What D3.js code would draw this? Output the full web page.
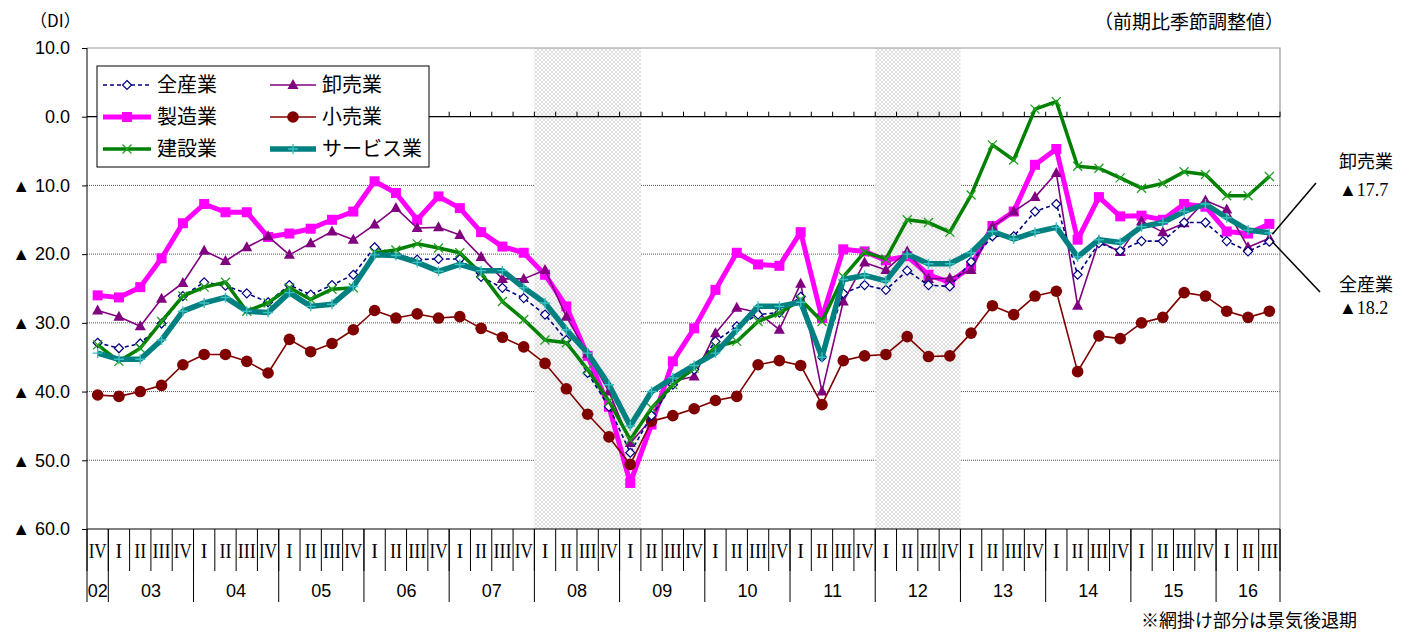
<!DOCTYPE html>
<html><head><meta charset="utf-8">
<script src="https://cdn.jsdelivr.net/npm/d3@7"></script>
<style>body{margin:0;background:#fff}</style>
</head><body>
<svg id="c" width="1419" height="634"></svg>
<script>
// ---------- data ----------
const quarterLabels = ["IV",
 "I","II","III","IV","I","II","III","IV","I","II","III","IV","I","II","III","IV",
 "I","II","III","IV","I","II","III","IV","I","II","III","IV","I","II","III","IV",
 "I","II","III","IV","I","II","III","IV","I","II","III","IV","I","II","III","IV",
 "I","II","III","IV","I","II","III"];
const yearLabels = ["02","03","04","05","06","07","08","09","10","11","12","13","14","15","16"];
const yearQuarterCounts = [1,4,4,4,4,4,4,4,4,4,4,4,4,4,3];
const yTickValues = [10,0,-10,-20,-30,-40,-50,-60];
const yTickLabels = ["10.0","0.0","▲ 10.0","▲ 20.0","▲ 30.0","▲ 40.0","▲ 50.0","▲ 60.0"];
const recessionStart = [21,37];   // 08 I, 12 I
const recessionEnd   = [25,40];   // 09 I, 12 IV

const allIndustries = [-32.9,-33.7,-33.0,-30.1,-26.1,-24.1,-24.6,-25.7,-27.0,-24.5,-25.9,-24.5,-23.0,-19.0,-20.0,-20.8,-20.7,-20.7,-23.3,-24.9,-26.4,-28.8,-32.5,-37.3,-42.2,-48.9,-43.5,-39.0,-36.8,-32.7,-30.5,-28.8,-28.5,-26.2,-35.0,-25.7,-24.5,-25.2,-22.4,-24.5,-24.7,-21.1,-17.4,-17.4,-13.8,-12.7,-23.0,-18.4,-19.5,-18.1,-18.1,-15.4,-15.4,-18.1,-19.6,-18.2];
const wholesale = [-28.2,-29.1,-30.5,-26.5,-24.2,-19.5,-21.0,-19.0,-17.4,-20.1,-18.4,-16.7,-17.9,-15.7,-13.3,-16.2,-16.1,-17.2,-20.4,-23.6,-23.6,-22.3,-29.1,-34.5,-40.0,-47.5,-44.0,-38.5,-37.8,-31.5,-27.8,-28.5,-31.0,-24.3,-40.0,-26.9,-21.2,-22.3,-19.6,-23.6,-23.5,-22.3,-16.0,-13.8,-11.7,-8.2,-27.5,-18.1,-19.7,-15.2,-16.8,-15.5,-12.2,-13.5,-19.0,-17.7];
const manufacturing = [-26.0,-26.3,-24.8,-20.6,-15.5,-12.7,-13.9,-13.9,-17.5,-17.0,-16.3,-15.0,-13.8,-9.4,-11.1,-15.0,-11.6,-13.3,-16.8,-18.9,-19.8,-23.0,-27.6,-34.8,-42.2,-53.3,-44.8,-35.6,-30.8,-25.2,-19.8,-21.5,-21.7,-16.8,-29.3,-19.3,-19.6,-20.9,-20.3,-23.0,-24.1,-21.8,-15.9,-13.8,-7.0,-4.7,-17.9,-11.7,-14.5,-14.4,-15.0,-12.7,-13.1,-16.7,-17.0,-15.6];
const retail = [-40.5,-40.7,-40.0,-39.1,-36.1,-34.6,-34.6,-35.6,-37.3,-32.4,-34.2,-33.0,-31.0,-28.2,-29.3,-28.7,-29.3,-29.1,-30.8,-32.1,-33.5,-35.9,-39.6,-43.3,-46.6,-50.6,-44.3,-43.5,-42.5,-41.3,-40.7,-36.1,-35.5,-36.2,-41.9,-35.5,-34.8,-34.6,-32.0,-34.9,-34.8,-31.5,-27.5,-28.8,-26.1,-25.4,-37.1,-31.9,-32.3,-30.0,-29.2,-25.6,-26.1,-28.3,-29.2,-28.3];
const construction = [-33.2,-35.6,-33.7,-29.8,-26.1,-24.8,-24.1,-28.3,-27.1,-24.9,-26.6,-25.1,-24.9,-19.8,-19.4,-18.5,-19.1,-19.8,-22.8,-26.9,-29.5,-32.5,-32.9,-36.8,-41.4,-47.0,-42.4,-39.0,-36.6,-33.5,-32.7,-29.8,-28.6,-26.6,-29.8,-23.3,-19.7,-20.7,-15.0,-15.4,-16.8,-11.4,-4.1,-6.3,1.1,2.2,-7.2,-7.5,-8.9,-10.4,-9.7,-8.0,-8.4,-11.5,-11.5,-8.7];
const services = [-34.4,-35.3,-35.3,-32.5,-28.3,-27.1,-26.3,-28.3,-28.5,-25.6,-27.6,-27.3,-24.7,-20.1,-20.2,-21.2,-22.5,-21.5,-22.4,-22.4,-24.9,-27.1,-31.0,-34.4,-39.0,-45.0,-40.0,-38.0,-36.2,-34.4,-31.0,-27.6,-27.6,-27.0,-35.0,-23.7,-23.1,-23.9,-20.0,-21.4,-21.4,-19.8,-16.7,-17.8,-16.8,-16.1,-20.4,-17.9,-18.3,-16.0,-15.4,-13.8,-12.7,-14.7,-16.5,-16.9];

// ---------- setup ----------
const svg = d3.select("#c");
const L = 87, R = 1280, T = 48, B = 529;
const x = d3.scaleBand().domain(d3.range(quarterLabels.length)).range([L, R]).padding(0);
const cx = i => x(i) + x.bandwidth() / 2;
const y = d3.scaleLinear().domain([-60, 10]).range([B, T]);
const sans = "'Liberation Sans', Arial, sans-serif";
const jp = "'Noto Sans CJK JP', sans-serif";
const serif = "'Liberation Serif', 'DejaVu Serif', serif";

const defs = svg.append("defs");
const pat = defs.append("pattern").attr("id", "mesh").attr("width", 4).attr("height", 4)
  .attr("patternUnits", "userSpaceOnUse");
pat.append("rect").attr("width", 4).attr("height", 4).attr("fill", "#fbfbfb");
pat.append("path").attr("d", "M0,0L4,4M4,0L0,4").attr("stroke", "#d2d2d2").attr("stroke-width", 0.7);

// gridlines
svg.append("g").selectAll("line").data(yTickValues.filter(v => v < 0 && v > -60)).join("line")
  .attr("x1", L).attr("x2", R).attr("y1", d => y(d)).attr("y2", d => y(d))
  .attr("stroke", "#555").attr("stroke-width", 1).attr("stroke-dasharray", "1,1");

// recession shading
svg.append("g").selectAll("rect").data(recessionStart).join("rect")
  .attr("x", (d, k) => x(d)).attr("width", (d, k) => x(recessionEnd[k]) + x.bandwidth() - x(d))
  .attr("y", T).attr("height", B - T).attr("fill", "url(#mesh)");

// plot frame (top/right grey)
svg.append("path").attr("d", `M${L},${T}H${R}V${B}`).attr("fill", "none").attr("stroke", "#999").attr("stroke-width", 1.2);

// zero line with ticks above
svg.append("line").attr("x1", L).attr("x2", R).attr("y1", y(0)).attr("y2", y(0)).attr("stroke", "#000").attr("stroke-width", 1.2);
svg.append("g").selectAll("line").data(d3.range(1, quarterLabels.length + 1)).join("line")
  .attr("x1", d => L + d * x.bandwidth()).attr("x2", d => L + d * x.bandwidth())
  .attr("y1", y(0) - 5).attr("y2", y(0)).attr("stroke", "#000").attr("stroke-width", 1);

// left axis
const yAxis = d3.axisLeft(y).tickValues(yTickValues).tickFormat((d, i) => yTickLabels[i]).tickSize(5).tickPadding(12);
const ga = svg.append("g").attr("transform", `translate(${L},0)`).call(yAxis);
ga.select(".domain").attr("stroke", "#000").attr("d", `M0,${T}V${B}`);
ga.selectAll("text").attr("font-family", sans).attr("font-size", 18).attr("fill", "#000");

// bottom category table
const tb = svg.append("g");
tb.append("line").attr("x1", L).attr("x2", R).attr("y1", B).attr("y2", B).attr("stroke", "#000");
tb.selectAll("line.q").data(d3.range(quarterLabels.length + 1)).join("line").attr("class", "q")
  .attr("x1", d => L + d * x.bandwidth()).attr("x2", d => L + d * x.bandwidth())
  .attr("y1", B).attr("y2", 571).attr("stroke", "#000").attr("stroke-width", 1);
const yearBounds = [0];
yearQuarterCounts.forEach((c, k) => yearBounds.push(yearBounds[k] + c));
tb.selectAll("line.y").data(yearBounds).join("line").attr("class", "y")
  .attr("x1", d => L + d * x.bandwidth()).attr("x2", d => L + d * x.bandwidth())
  .attr("y1", B).attr("y2", 602).attr("stroke", "#000").attr("stroke-width", 1);
tb.selectAll("text.q").data(quarterLabels).join("text").attr("class", "q")
  .attr("x", (d, i) => cx(i)).attr("y", 558).attr("text-anchor", "middle")
  .attr("font-family", serif).attr("font-size", 20)
  .each(function (d) { if (d.length > 1) d3.select(this).attr("textLength", d.length === 3 ? 18 : (d === "IV" ? 18 : 12)).attr("lengthAdjust", "spacingAndGlyphs"); })
  .text(d => d);
tb.selectAll("text.y").data(yearLabels).join("text").attr("class", "y")
  .attr("x", (d, k) => L + (yearBounds[k] + yearQuarterCounts[k] / 2) * x.bandwidth())
  .attr("y", 597).attr("text-anchor", "middle")
  .attr("font-family", sans).attr("font-size", 18).text(d => d);

// ---------- series ----------
const markers = {
  diamond: g => g.append("path").attr("d", "M0,-4.5L4.5,0L0,4.5L-4.5,0Z").attr("fill", "#fff").attr("stroke", "#000080").attr("stroke-width", 1.2),
  triangle: g => g.append("path").attr("d", "M0,-6L5.5,4L-5.5,4Z").attr("fill", "#800080"),
  square: g => g.append("rect").attr("x", -5).attr("y", -5).attr("width", 10).attr("height", 10).attr("fill", "#ff00ff"),
  circle: g => g.append("circle").attr("r", 5.8).attr("fill", "#800000"),
  cross: g => g.append("path").attr("d", "M-4.5,-4.5L4.5,4.5M4.5,-4.5L-4.5,4.5").attr("stroke", "#22a022").attr("stroke-width", 1.3),
  plus: g => g.append("path").attr("d", "M-5,0H5M0,-5V5").attr("stroke", "#3cc0c0").attr("stroke-width", 1.4)
};
const series = [
  {name: "製造業", values: manufacturing, color: "#ff00ff", width: 5, dash: null, marker: "square"},
  {name: "卸売業", values: wholesale, color: "#800080", width: 1.6, dash: null, marker: "triangle"},
  {name: "小売業", values: retail, color: "#800000", width: 1.6, dash: null, marker: "circle"},
  {name: "全産業", values: allIndustries, color: "#000080", width: 1.6, dash: "4,3", marker: "diamond"},
  {name: "建設業", values: construction, color: "#008000", width: 3.5, dash: null, marker: "cross"},
  {name: "サービス業", values: services, color: "#008080", width: 5.5, dash: null, marker: "plus"}
];
const line = d3.line().x((d, i) => cx(i)).y(d => y(d));
series.forEach(s => {
  const g = svg.append("g");
  g.append("path").attr("d", line(s.values)).attr("fill", "none").attr("stroke", s.color)
    .attr("stroke-width", s.width).attr("stroke-dasharray", s.dash).attr("stroke-linejoin", "round");
  s.values.forEach((v, i) => {
    const m = g.append("g").attr("transform", `translate(${cx(i)},${y(v)})`);
    markers[s.marker](m);
  });
});

// ---------- legend ----------
const lg = svg.append("g");
lg.append("rect").attr("x", 97).attr("y", 66).attr("width", 332).attr("height", 101)
  .attr("fill", "#fff").attr("stroke", "#000").attr("stroke-width", 1);
const legendOrder = ["全産業", "製造業", "建設業", "卸売業", "小売業", "サービス業"];
legendOrder.forEach((n, k) => {
  const s = series.find(d => d.name === n);
  const col = Math.floor(k / 3), row = k % 3;
  const x0 = col ? 270 : 103, x1 = col ? 316 : 151, ty = 85 + row * 32;
  lg.append("line").attr("x1", x0).attr("x2", x1).attr("y1", ty).attr("y2", ty)
    .attr("stroke", s.color).attr("stroke-width", s.width).attr("stroke-dasharray", s.dash);
  markers[s.marker](lg.append("g").attr("transform", `translate(${(x0 + x1) / 2},${ty})`));
  lg.append("text").attr("x", col ? 322 : 157).attr("y", ty + 7).attr("font-family", jp)
    .attr("font-size", 20).text(n);
});

// ---------- titles & notes ----------
svg.append("text").attr("x", 30).attr("y", 27).attr("font-family", jp).attr("font-size", 17).text("（DI）");
svg.append("text").attr("x", 1284).attr("y", 29).attr("text-anchor", "end").attr("font-family", jp).attr("font-size", 19).text("（前期比季節調整値）");
svg.append("text").attr("x", 1357).attr("y", 627).attr("text-anchor", "end").attr("font-family", jp).attr("font-size", 18).text("※網掛け部分は景気後退期");

// right annotations
const last = quarterLabels.length - 1;
svg.append("line").attr("x1", cx(last) + 3).attr("y1", y(wholesale[last]) - 4).attr("x2", 1316).attr("y2", 183).attr("stroke", "#000").attr("stroke-width", 1.5);
svg.append("line").attr("x1", cx(last) + 3).attr("y1", y(allIndustries[last])).attr("x2", 1320).attr("y2", 292).attr("stroke", "#000").attr("stroke-width", 1.5);
const ann = [["卸売業", 168], ["▲17.7", 196], ["全産業", 291], ["▲18.2", 314]];
svg.selectAll("text.ann").data(ann).join("text").attr("class", "ann")
  .attr("x", 1339).attr("y", d => d[1]).attr("font-family", "'Liberation Serif','Noto Sans CJK JP',serif")
  .attr("font-size", 18).text(d => d[0]);
</script>
</body></html>
